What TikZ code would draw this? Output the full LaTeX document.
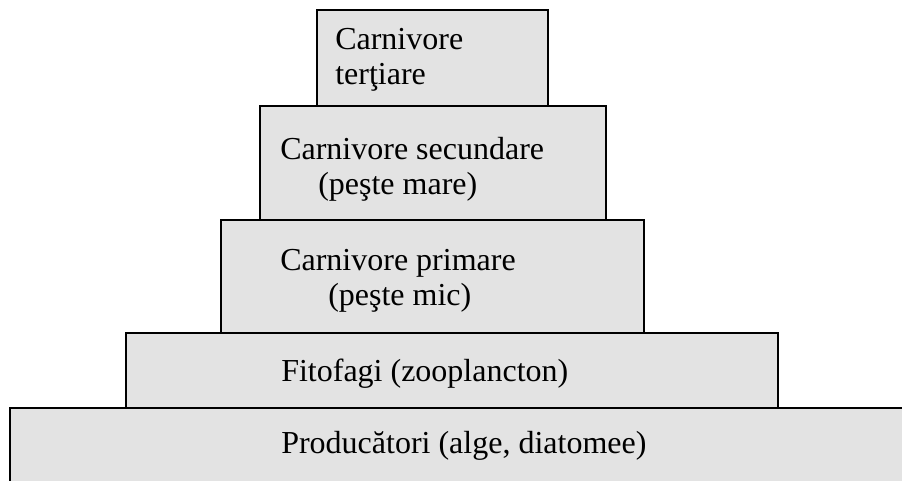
\documentclass[tikz,border=0pt]{standalone}
\usepackage{fontspec}
\setmainfont{Liberation Serif}
\usepackage{tikz}
\usetikzlibrary{calc}

\definecolor{tiergray}{RGB}{227,227,227}

\begin{document}
\begin{tikzpicture}[x=0.75pt, y=-0.75pt,
	tier/.style={fill=tiergray, draw=black, line width=1.4pt},
	lbl/.style={anchor=base west, inner sep=0pt, font=\fontsize{24}{29}\selectfont}]
			\useasboundingbox (0,0) rectangle (902,481);

			% bottom level runs out of the picture on the right and below
			\fill[tiergray] (10,408) rectangle (902,481);
			\draw[line width=1.4pt] (10,481) -- (10,408) -- (902,408);

			\draw[tier] (126,333) rectangle (778,408);
			\draw[tier] (221,220) rectangle (644,333);
			\draw[tier] (260,106) rectangle (606,220);
			\draw[tier] (317,10) rectangle (548,106);

			\node[lbl] (tert1) at (335,50) {Carnivore};
			\node[lbl] (tert2) at (335,85) {terţiare};
			\node[lbl] (sec1) at (280,160) {Carnivore secundare};
			\node[lbl] (sec2) at (318,195) {(peşte mare)};
			\node[lbl] (prim1) at (280,270) {Carnivore primare};
			\node[lbl] (prim2) at (328,305) {(peşte mic)};
			\node[lbl] (fito) at (281,381) {Fitofagi (zooplancton)};
			\node[lbl] (prod) at (281,453) {Producători (alge, diatomee)};
		\end{tikzpicture}
\end{document}
